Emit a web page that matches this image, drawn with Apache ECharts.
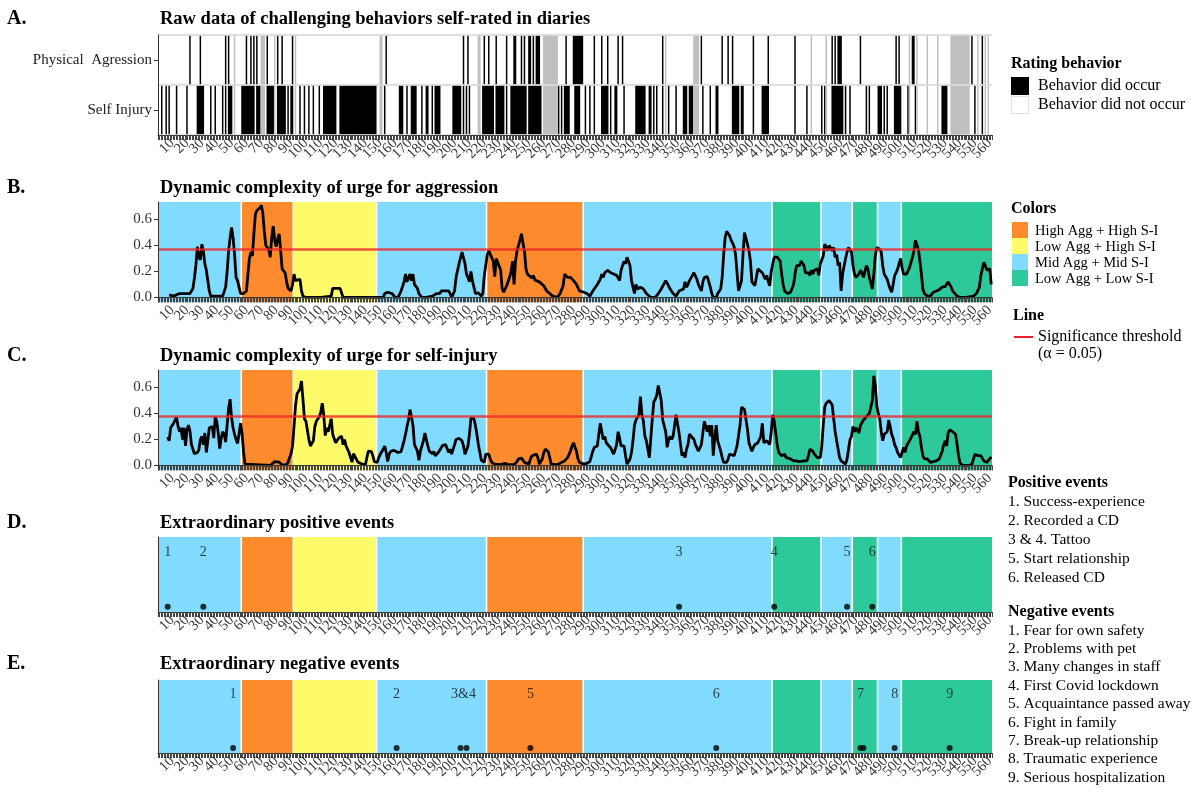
<!DOCTYPE html>
<html>
<head>
<meta charset="utf-8">
<script src="https://cdn.jsdelivr.net/npm/echarts/dist/echarts.min.js"></script>
<style>html,body{margin:0;padding:0;background:#fff}#c{width:1200px;height:800px}</style>
</head>
<body>
<div id="c"></div>
<script>
// ---------------- DATA ----------------
const N_DAYS = 561;
const rowNames = ['Self Injury', 'Physical  Agression'];

// Panel A: days with behavior (intervals [start, end], inclusive)
const aggOccurred = [[22,22],[29,29],[46,46],[48,48],[60,60],[63,63],[65,65],[67,67],[74,74],[81,81],[84,84],[91,91],[154,154],[206,206],[209,209],[220,220],[223,223],[228,228],[235,235],[240,241],[245,245],[247,247],[250,251],[253,253],[255,257],[275,275],[280,286],[294,294],[299,299],[303,303],[310,310],[313,313],[340,340],[366,366],[380,380],[384,384],[387,387],[401,401],[411,411],[429,429],[454,454],[456,456],[458,460],[473,473],[497,497],[499,499],[508,509],[548,548],[555,555]];
const siOccurred = [[3,3],[6,6],[8,8],[13,13],[20,20],[27,31],[36,36],[39,39],[44,44],[46,46],[48,50],[57,65],[67,69],[74,78],[81,86],[88,88],[90,91],[96,96],[99,99],[102,102],[105,105],[109,109],[112,120],[123,147],[153,153],[163,165],[168,168],[171,174],[178,178],[181,182],[185,185],[187,190],[199,204],[206,206],[208,208],[210,210],[219,226],[228,233],[235,235],[238,248],[250,258],[270,270],[272,272],[274,277],[281,284],[288,288],[291,291],[294,294],[299,303],[305,305],[308,309],[314,314],[322,328],[331,332],[334,334],[336,336],[340,340],[344,344],[349,349],[354,356],[358,360],[367,367],[372,372],[376,377],[387,391],[393,394],[401,401],[407,411],[429,429],[437,437],[447,447],[449,449],[454,461],[463,463],[466,466],[477,477],[479,479],[485,487],[489,489],[491,491],[496,500],[505,505],[510,510],[528,531],[550,550],[555,555]];
const missingDays = [[52,52],[70,72],[79,79],[93,93],[150,151],[216,217],[260,269],[342,342],[361,364],[440,440],[450,450],[506,506],[511,511],[518,518],[525,525],[534,546],[552,552],[557,557],[559,559]];

// Phases (background colours)
const phaseNames = ['High Agg + High S-I', 'Low Agg + High S-I', 'Mid Agg + Mid S-I', 'Low Agg + Low S-I'];
const phaseStart = [1, 57, 92, 148, 222, 287, 414, 447, 468, 485, 501];
const phaseEnd   = [56, 91, 147, 221, 286, 413, 446, 467, 484, 500, 561];
const phaseType  = [2, 0, 1, 2, 0, 2, 3, 2, 3, 2, 3];

// Dynamic complexity [day, value]
const aggUrge = [[8,0.02],[11,0.01],[15,0.03],[19,0.03],[22,0.03],[23,0.05],[24,0.07],[25,0.15],[26,0.25],[27,0.39],[28,0.31],[29,0.29],[30,0.41],[31,0.36],[32,0.26],[33,0.21],[34,0.13],[35,0.05],[36,0.01],[40,0.01],[44,0.01],[46,0.08],[47,0.20],[48,0.36],[49,0.46],[50,0.54],[51,0.46],[52,0.33],[53,0.155],[54,0.13],[55,0.08],[56,0.03],[58,0.03],[59,0.03],[60,0.05],[61,0.18],[62,0.30],[63,0.35],[64,0.32],[65,0.49],[66,0.64],[67,0.67],[68,0.67],[69,0.69],[70,0.71],[71,0.65],[72,0.51],[73,0.40],[74,0.39],[75,0.37],[76,0.31],[77,0.46],[78,0.55],[79,0.44],[80,0.39],[81,0.45],[82,0.49],[83,0.36],[84,0.22],[85,0.22],[86,0.19],[87,0.12],[88,0.07],[90,0.05],[91,0.10],[92,0.18],[93,0.13],[94,0.13],[96,0.14],[97,0.05],[98,0.01],[100,0.0],[110,0.0],[117,0.01],[118,0.07],[123,0.07],[125,0.0],[135,0.0],[145,0.0],[152,0.0],[153,0.03],[155,0.04],[158,0.03],[160,0.0],[162,0.0],[164,0.05],[166,0.12],[167,0.18],[168,0.12],[170,0.18],[171,0.13],[172,0.18],[173,0.10],[175,0.07],[176,0.03],[178,0.0],[181,0.0],[185,0.01],[188,0.03],[190,0.03],[191,0.05],[196,0.05],[197,0.03],[198,0.0],[200,0.05],[201,0.155],[203,0.26],[205,0.35],[206,0.36],[207,0.26],[208,0.18],[209,0.155],[210,0.12],[211,0.20],[212,0.13],[213,0.08],[214,0.03],[216,0.035],[218,0.01],[219,0.03],[220,0.17],[221,0.18],[222,0.33],[223,0.36],[224,0.35],[226,0.28],[227,0.16],[228,0.30],[229,0.31],[231,0.21],[232,0.065],[233,0.04],[234,0.03],[235,0.09],[236,0.09],[237,0.155],[238,0.20],[239,0.28],[240,0.10],[241,0.28],[242,0.36],[243,0.40],[244,0.41],[245,0.49],[246,0.42],[247,0.36],[248,0.22],[249,0.18],[250,0.19],[252,0.15],[253,0.17],[254,0.135],[255,0.12],[257,0.12],[260,0.09],[262,0.05],[264,0.03],[266,0.01],[269,0.0],[271,0.03],[273,0.09],[274,0.18],[276,0.155],[278,0.155],[280,0.13],[282,0.10],[284,0.05],[287,0.04],[289,0.03],[291,0.01],[293,0.05],[296,0.10],[298,0.14],[299,0.18],[300,0.155],[301,0.19],[302,0.18],[303,0.21],[305,0.19],[307,0.18],[309,0.17],[311,0.13],[312,0.21],[314,0.28],[315,0.26],[316,0.31],[317,0.30],[318,0.245],[319,0.13],[321,0.03],[322,0.10],[323,0.065],[325,0.08],[327,0.065],[329,0.03],[332,0.0],[335,0.0],[337,0.03],[339,0.065],[342,0.13],[343,0.11],[345,0.065],[346,0.05],[347,0.03],[349,0.01],[351,0.05],[354,0.065],[355,0.12],[356,0.08],[357,0.10],[358,0.13],[360,0.17],[361,0.19],[362,0.18],[363,0.14],[364,0.10],[365,0.09],[366,0.05],[367,0.12],[368,0.155],[370,0.16],[371,0.12],[372,0.08],[373,0.03],[374,0.0],[376,0.0],[377,0.03],[379,0.065],[380,0.155],[381,0.33],[382,0.46],[383,0.51],[384,0.51],[385,0.475],[386,0.44],[387,0.42],[388,0.39],[389,0.33],[390,0.19],[391,0.05],[392,0.04],[393,0.13],[394,0.33],[395,0.50],[396,0.49],[397,0.41],[398,0.36],[399,0.28],[400,0.12],[401,0.125],[402,0.09],[403,0.155],[404,0.22],[405,0.22],[407,0.19],[408,0.18],[409,0.14],[410,0.17],[411,0.12],[412,0.09],[413,0.20],[414,0.26],[415,0.31],[417,0.31],[418,0.32],[419,0.28],[420,0.18],[421,0.10],[422,0.05],[423,0.04],[424,0.03],[426,0.04],[428,0.10],[429,0.18],[430,0.245],[431,0.23],[432,0.245],[433,0.28],[435,0.245],[436,0.19],[437,0.18],[438,0.19],[439,0.17],[440,0.21],[441,0.18],[442,0.21],[444,0.22],[445,0.17],[446,0.26],[447,0.26],[448,0.32],[449,0.41],[450,0.385],[451,0.36],[452,0.40],[454,0.36],[455,0.385],[456,0.31],[457,0.33],[458,0.245],[459,0.27],[460,0.05],[461,0.18],[463,0.30],[464,0.35],[465,0.385],[466,0.37],[467,0.35],[468,0.245],[469,0.18],[470,0.155],[472,0.18],[473,0.21],[474,0.19],[475,0.155],[476,0.17],[477,0.245],[478,0.22],[479,0.155],[481,0.065],[482,0.18],[483,0.32],[484,0.385],[485,0.385],[486,0.37],[487,0.35],[488,0.245],[489,0.18],[491,0.14],[492,0.10],[493,0.065],[494,0.04],[495,0.10],[496,0.17],[497,0.19],[498,0.22],[500,0.30],[501,0.23],[502,0.18],[504,0.18],[506,0.23],[507,0.27],[508,0.31],[509,0.36],[510,0.44],[511,0.43],[512,0.37],[513,0.28],[514,0.18],[515,0.065],[516,0.03],[518,0.01],[520,0.01],[522,0.04],[524,0.05],[526,0.06],[528,0.08],[529,0.09],[530,0.085],[531,0.10],[532,0.12],[533,0.10],[534,0.08],[535,0.05],[538,0.01],[540,0.0],[544,0.0],[549,0.01],[551,0.03],[553,0.08],[554,0.17],[556,0.27],[557,0.245],[558,0.21],[559,0.195],[560,0.22],[561,0.10]];

const siUrge = [[7,0.22],[8,0.19],[9,0.29],[10,0.30],[11,0.325],[12,0.35],[13,0.37],[14,0.30],[15,0.26],[16,0.29],[17,0.20],[18,0.29],[19,0.15],[20,0.275],[21,0.31],[22,0.265],[23,0.16],[24,0.16],[25,0.09],[26,0.09],[27,0.10],[28,0.12],[29,0.20],[30,0.225],[31,0.16],[32,0.25],[33,0.10],[34,0.19],[35,0.29],[36,0.29],[37,0.30],[38,0.21],[39,0.375],[40,0.34],[41,0.25],[42,0.13],[43,0.21],[44,0.26],[45,0.24],[46,0.18],[47,0.31],[48,0.44],[49,0.51],[50,0.365],[51,0.29],[52,0.24],[53,0.20],[54,0.17],[55,0.24],[56,0.325],[57,0.25],[58,0.11],[59,0.01],[60,0.0],[76,0.0],[77,0.015],[79,0.03],[82,0.025],[84,0.005],[87,0.005],[88,0.025],[89,0.06],[90,0.09],[91,0.15],[92,0.30],[93,0.46],[94,0.55],[95,0.55],[96,0.59],[97,0.65],[98,0.51],[99,0.36],[100,0.34],[101,0.325],[102,0.20],[103,0.15],[104,0.14],[105,0.19],[106,0.30],[107,0.34],[108,0.35],[109,0.375],[110,0.41],[111,0.48],[112,0.39],[113,0.23],[114,0.29],[115,0.26],[116,0.25],[117,0.36],[118,0.24],[120,0.175],[121,0.16],[122,0.21],[123,0.225],[124,0.225],[125,0.16],[126,0.20],[127,0.15],[128,0.125],[129,0.10],[130,0.09],[131,0.025],[132,0.09],[133,0.075],[135,0.025],[136,0.01],[138,0.01],[140,0.005],[141,0.06],[142,0.11],[143,0.117],[144,0.107],[145,0.075],[146,0.03],[148,0.024],[149,0.06],[150,0.087],[151,0.10],[152,0.125],[153,0.15],[154,0.10],[155,0.03],[156,0.087],[157,0.107],[158,0.10],[159,0.117],[160,0.104],[162,0.10],[163,0.10],[164,0.107],[166,0.19],[167,0.24],[168,0.30],[169,0.35],[170,0.43],[171,0.375],[172,0.31],[173,0.16],[175,0.11],[176,0.04],[177,0.11],[178,0.107],[179,0.19],[180,0.25],[181,0.24],[182,0.15],[183,0.11],[185,0.09],[186,0.107],[187,0.075],[188,0.09],[189,0.10],[190,0.117],[191,0.13],[192,0.155],[194,0.16],[195,0.15],[196,0.10],[197,0.125],[198,0.087],[199,0.10],[200,0.16],[201,0.20],[203,0.21],[204,0.225],[205,0.19],[206,0.15],[207,0.087],[208,0.087],[209,0.15],[210,0.24],[211,0.365],[212,0.375],[213,0.36],[214,0.31],[215,0.24],[216,0.16],[217,0.10],[218,0.04],[219,0.03],[220,0.024],[221,0.087],[222,0.10],[223,0.087],[224,0.05],[225,0.024],[227,0.01],[231,0.006],[234,0.016],[236,0.006],[240,0.006],[242,0.03],[243,0.05],[245,0.057],[246,0.05],[247,0.024],[250,0.01],[251,0.05],[252,0.075],[253,0.087],[255,0.087],[256,0.06],[257,0.01],[259,0.05],[260,0.10],[261,0.125],[262,0.135],[263,0.107],[264,0.06],[265,0.01],[268,0.006],[270,0.01],[272,0.024],[274,0.035],[276,0.06],[278,0.11],[279,0.15],[280,0.175],[281,0.14],[282,0.11],[283,0.05],[284,0.024],[287,0.01],[289,0.016],[291,0.03],[292,0.035],[293,0.11],[294,0.14],[296,0.15],[297,0.16],[298,0.325],[299,0.31],[300,0.20],[301,0.225],[302,0.175],[303,0.16],[305,0.135],[306,0.125],[307,0.087],[308,0.10],[309,0.16],[310,0.26],[311,0.21],[312,0.15],[314,0.15],[315,0.075],[316,0.01],[317,0.024],[318,0.05],[319,0.10],[320,0.19],[321,0.31],[322,0.35],[324,0.39],[325,0.53],[326,0.39],[327,0.34],[328,0.225],[329,0.19],[330,0.125],[331,0.06],[332,0.21],[333,0.36],[334,0.49],[335,0.51],[336,0.54],[337,0.615],[338,0.56],[339,0.50],[340,0.35],[341,0.34],[342,0.26],[343,0.14],[344,0.20],[345,0.225],[346,0.20],[347,0.225],[348,0.21],[349,0.39],[351,0.25],[352,0.16],[353,0.075],[354,0.10],[355,0.06],[356,0.125],[357,0.16],[358,0.24],[359,0.225],[361,0.20],[362,0.16],[363,0.175],[364,0.11],[365,0.135],[366,0.16],[367,0.175],[368,0.34],[370,0.26],[371,0.31],[372,0.225],[373,0.31],[374,0.075],[375,0.21],[376,0.31],[377,0.19],[379,0.11],[380,0.06],[381,0.024],[382,0.01],[383,0.024],[384,0.05],[385,0.087],[386,0.10],[388,0.075],[389,0.11],[390,0.15],[391,0.16],[392,0.31],[393,0.45],[394,0.44],[395,0.43],[396,0.42],[397,0.28],[398,0.175],[399,0.14],[400,0.11],[401,0.14],[402,0.16],[404,0.175],[405,0.175],[406,0.225],[407,0.325],[408,0.175],[409,0.175],[410,0.19],[411,0.175],[412,0.16],[413,0.26],[414,0.39],[415,0.34],[416,0.25],[417,0.16],[418,0.10],[419,0.10],[420,0.075],[422,0.087],[423,0.06],[426,0.05],[428,0.035],[430,0.035],[432,0.03],[435,0.035],[436,0.024],[437,0.035],[438,0.075],[439,0.125],[440,0.135],[441,0.11],[442,0.087],[444,0.06],[445,0.05],[446,0.06],[447,0.15],[448,0.31],[449,0.45],[450,0.48],[451,0.49],[452,0.50],[454,0.465],[455,0.36],[456,0.26],[457,0.19],[458,0.125],[459,0.06],[460,0.035],[461,0.024],[463,0.01],[464,0.05],[465,0.125],[466,0.20],[467,0.225],[468,0.30],[469,0.26],[470,0.29],[472,0.25],[473,0.31],[474,0.30],[475,0.35],[476,0.34],[477,0.375],[478,0.36],[479,0.40],[481,0.50],[482,0.69],[483,0.615],[484,0.46],[485,0.40],[486,0.36],[487,0.26],[488,0.19],[489,0.24],[491,0.26],[492,0.35],[493,0.30],[494,0.24],[495,0.21],[496,0.16],[497,0.135],[498,0.10],[500,0.06],[501,0.05],[502,0.14],[503,0.10],[504,0.15],[505,0.15],[506,0.19],[507,0.175],[509,0.26],[510,0.24],[511,0.34],[512,0.26],[513,0.225],[514,0.14],[515,0.075],[516,0.05],[518,0.05],[520,0.024],[522,0.03],[524,0.035],[526,0.05],[528,0.11],[529,0.16],[530,0.19],[531,0.15],[532,0.25],[533,0.275],[534,0.29],[535,0.26],[537,0.24],[538,0.16],[539,0.075],[540,0.016],[542,0.0],[546,0.0],[548,0.01],[550,0.087],[551,0.075],[552,0.075],[553,0.06],[554,0.075],[556,0.035],[558,0.024],[559,0.035],[561,0.066]];

const aggThreshold = 0.37;
const siThreshold = 0.38;

// Events
const posEventDays = [7, 31, 351, 415, 464, 481];
const posEventLabels = ['1', '2', '3', '4', '5', '6'];
const negEventDays = [51, 161, 204, 208, 251, 376, 473, 475, 496, 533];
const negLabelDays = [51, 161, 206, 251, 376, 473, 496, 533];
const negLabelTexts = ['1', '2', '3&4', '5', '6', '7', '8', '9'];
const posEventNames = ['1. Success-experience', '2. Recorded a CD', '3 & 4. Tattoo', '5. Start relationship', '6. Released CD'];
const negEventNames = ['1. Fear for own safety', '2. Problems with pet', '3. Many changes in staff', '4. First Covid lockdown', '5. Acquaintance passed away', '6. Fight in family', '7. Break-up relationship', '8. Traumatic experience', '9. Serious hospitalization'];

// ---------------- STYLE ----------------
const FONT = 'Liberation Serif';
const phaseColors = ['#FD8A2C', '#FEFB6B', '#80DBFE', '#2DC99B'];
const dayNames = Array.from({length: N_DAYS}, (_, i) => String(i + 1));

const grids = [
  {left: 158, width: 834, top: 35, height: 100},
  {left: 158, width: 834, top: 202, height: 100},
  {left: 158, width: 834, top: 370, height: 100},
  {left: 158, width: 834, top: 537, height: 75},
  {left: 158, width: 834, top: 680, height: 73}
];

function xAxisFor(i) {
  return {
    type: 'category', gridIndex: i, data: dayNames, boundaryGap: true, z: 10,
    axisLine: {show: true, lineStyle: {color: '#333', width: 1}},
    axisTick: {show: true, interval: 0, length: 5, lineStyle: {color: '#444', width: 1}},
    axisLabel: {
      // first and last categories get an empty label that ECharts may drop instead of a real one
      interval: (idx) => idx === 0 || idx === N_DAYS - 1 || (idx + 1) % 10 === 0,
      formatter: (v) => (Number(v) % 10 === 0 ? v : ''),
      showMinLabel: false, showMaxLabel: false, hideOverlap: false,
      rotate: 45, fontFamily: FONT, fontSize: 14.5, color: '#333', margin: 6
    },
    splitLine: {show: false}
  };
}

const yAxes = [
  {type: 'category', gridIndex: 0, data: rowNames, z: 10,
   axisLine: {show: true, lineStyle: {color: '#333'}},
   axisTick: {show: true, length: 4, alignWithLabel: true, lineStyle: {color: '#333'}},
   axisLabel: {fontFamily: FONT, fontSize: 15, color: '#222', margin: 6},
   splitLine: {show: true, lineStyle: {color: '#d6d6d6', width: 1.5}}},
];
[1, 2].forEach(i => yAxes.push({
  type: 'value', gridIndex: i, min: -0.035, max: 0.735, z: 10,
  axisLine: {show: true, lineStyle: {color: '#333'}},
  axisTick: {show: true, length: 4, customValues: [0, 0.2, 0.4, 0.6], lineStyle: {color: '#333'}},
  axisLabel: {customValues: [0, 0.2, 0.4, 0.6], formatter: v => v.toFixed(1), fontFamily: FONT, fontSize: 15, color: '#333', margin: 6},
  splitLine: {show: false}
}));
[3, 4].forEach(i => yAxes.push({
  type: 'value', gridIndex: i, min: 0, max: 1, z: 10,
  axisLine: {show: true, lineStyle: {color: '#333'}},
  axisTick: {show: false}, axisLabel: {show: false}, splitLine: {show: false}
}));

function phaseRender(params, api) {
  const s = api.value(0), e = api.value(1), c = api.value(2);
  const bw = api.size([1, 0])[0];
  const x0 = api.coord([s, 0])[0] - bw / 2;
  const x1 = api.coord([e, 0])[0] + bw / 2;
  const cs = params.coordSys;
  const children = [{type: 'rect', shape: {x: x0, y: cs.y, width: x1 - x0, height: cs.height}, style: {fill: phaseColors[c]}}];
  if (s > 0) children.push({type: 'line', shape: {x1: x0, y1: cs.y, x2: x0, y2: cs.y + cs.height}, style: {stroke: '#fff', lineWidth: 1.6}});
  return {type: 'group', children};
}
const phaseData = phaseStart.map((s, k) => [s - 1, phaseEnd[k] - 1, phaseType[k]]);

function cellRender(params, api) {
  const s = api.value(0), e = api.value(1), r = api.value(2), st = api.value(3);
  const a = api.coord([s, r]), b = api.coord([e, r]);
  const sz = api.size([1, 1]);
  return {type: 'rect', shape: {x: a[0] - sz[0] / 2, y: a[1] - sz[1] / 2 + 0.5, width: b[0] - a[0] + sz[0], height: sz[1] - 1},
          style: {fill: st === 1 ? '#000' : '#bfbfbf'}};
}
const cellData = [];
aggOccurred.forEach(([s, e]) => cellData.push([s - 1, e - 1, 1, 1]));
siOccurred.forEach(([s, e]) => cellData.push([s - 1, e - 1, 0, 1]));
missingDays.forEach(([s, e]) => { cellData.push([s - 1, e - 1, 0, 2]); cellData.push([s - 1, e - 1, 1, 2]); });

const series = [
  {type: 'custom', xAxisIndex: 0, yAxisIndex: 0, renderItem: cellRender, data: cellData, encode: {x: [0, 1], y: 2}, silent: true}
];
[1, 2, 3, 4].forEach(i => series.push({
  type: 'custom', xAxisIndex: i, yAxisIndex: i, renderItem: phaseRender, data: phaseData, encode: {x: [0, 1], y: 2}, z: 1, silent: true
}));
function markLineFor(v) {
  return {silent: true, symbol: ['none', 'none'], label: {show: false}, animation: false,
          lineStyle: {color: 'rgba(236,40,40,0.8)', width: 2.5, type: 'solid'}, data: [{yAxis: v}]};
}
series.push({type: 'line', xAxisIndex: 1, yAxisIndex: 1, data: aggUrge.map(([d, v]) => [d - 1, v]), showSymbol: false,
  lineStyle: {color: '#000', width: 2.8}, itemStyle: {color: '#000'}, z: 3, markLine: markLineFor(aggThreshold)});
series.push({type: 'line', xAxisIndex: 2, yAxisIndex: 2, data: siUrge.map(([d, v]) => [d - 1, v]), showSymbol: false,
  lineStyle: {color: '#000', width: 2.8}, itemStyle: {color: '#000'}, z: 3, markLine: markLineFor(siThreshold)});

const DOT_LEVEL = 0.07, LABEL_LEVEL = 0.8;
series.push({type: 'scatter', xAxisIndex: 3, yAxisIndex: 3, symbolSize: 6, itemStyle: {color: '#000'}, z: 4,
  data: posEventDays.map(d => [d - 1, DOT_LEVEL])});
series.push({type: 'scatter', xAxisIndex: 4, yAxisIndex: 4, symbolSize: 6, itemStyle: {color: '#000'}, z: 4,
  data: negEventDays.map(d => [d - 1, DOT_LEVEL])});
const evLabel = {show: true, position: 'inside', formatter: '{b}', fontFamily: FONT, fontSize: 14, color: '#111'};
series.push({type: 'scatter', xAxisIndex: 3, yAxisIndex: 3, symbolSize: 0, z: 4, label: evLabel,
  data: posEventDays.map((d, k) => ({name: posEventLabels[k], value: [d - 1, LABEL_LEVEL]}))});
series.push({type: 'scatter', xAxisIndex: 4, yAxisIndex: 4, symbolSize: 0, z: 4, label: evLabel,
  data: negLabelDays.map((d, k) => ({name: negLabelTexts[k], value: [d - 1, LABEL_LEVEL]}))});

// Titles
const panelLetters = ['A.', 'B.', 'C.', 'D.', 'E.'];
const panelTitles = ['Raw data of challenging behaviors self-rated in diaries', 'Dynamic complexity of urge for aggression',
  'Dynamic complexity of urge for self-injury', 'Extraordinary positive events', 'Extraordinary negative events'];
const titleTops = [9, 178, 346, 513, 654];
const titles = [];
panelLetters.forEach((t, k) => {
  titles.push({text: t, left: 7, top: titleTops[k], padding: 0, textStyle: {fontFamily: FONT, fontWeight: 'bold', fontSize: 20, color: '#000'}});
  titles.push({text: panelTitles[k], left: 160, top: titleTops[k] + 1, padding: 0, textStyle: {fontFamily: FONT, fontWeight: 'bold', fontSize: 18.5, color: '#000'}});
});

// Legend (graphic)
const g = [];
function txt(x, y, text, bold, size) {
  g.push({type: 'text', x, y, style: {text, font: (bold ? 'bold ' : '') + (size || 15.5) + 'px "' + FONT + '"', fill: '#000', verticalAlign: 'middle', align: 'left'}});
}
function rect(x, y, w, h, fill, stroke) {
  g.push({type: 'rect', shape: {x, y, width: w, height: h}, style: {fill, stroke: stroke || null, lineWidth: 1}});
}
txt(1011, 64, 'Rating behavior', true, 16);
rect(1011, 77, 18, 18, '#000');
rect(1011.5, 96.5, 17, 17, '#fff', '#e0e0e0');
txt(1038, 86, 'Behavior did occur', false, 16);
txt(1038, 105, 'Behavior did not occur', false, 16);
txt(1011, 209, 'Colors', true, 16);
phaseNames.forEach((n, k) => { rect(1012, 222 + 16 * k, 16, 16, phaseColors[k]); txt(1035, 231 + 16 * k, n, false, 14.5); });
txt(1013, 316, 'Line', true, 16);
g.push({type: 'line', shape: {x1: 1014, y1: 337, x2: 1033, y2: 337}, style: {stroke: '#e8202a', lineWidth: 2}});
txt(1038, 337, 'Significance threshold', false, 16);
txt(1038, 354, '(\u03b1 = 0.05)', false, 16);
txt(1008, 483, 'Positive events', true, 16);
posEventNames.forEach((n, k) => txt(1008, 502 + 19 * k, n, false, 15.5));
txt(1008, 612, 'Negative events', true, 16);
negEventNames.forEach((n, k) => txt(1008, 630.5 + 18.4 * k, n, false, 15.5));

const chart = echarts.init(document.getElementById('c'), null, {renderer: 'canvas'});
chart.setOption({
  animation: false,
  backgroundColor: '#fff',
  title: titles,
  grid: grids,
  xAxis: [0, 1, 2, 3, 4].map(xAxisFor),
  yAxis: yAxes,
  series,
  graphic: g
});
</script>
</body>
</html>
